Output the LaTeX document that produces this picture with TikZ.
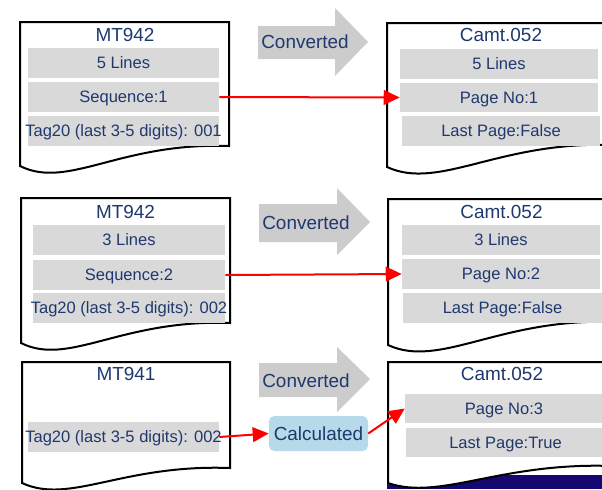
\documentclass[tikz,border=0pt]{standalone}
\usepackage{fontspec}
\setmainfont{Liberation Sans}
\usepackage{xcolor}
\usetikzlibrary{arrows.meta}

\definecolor{txtblue}{RGB}{31,56,110}
\definecolor{bargray}{RGB}{217,217,217}
\definecolor{convgray}{RGB}{204,204,204}
\definecolor{calcblue}{RGB}{182,218,234}
\definecolor{bandnavy}{RGB}{22,8,112}

\tikzset{
  docpage/.style={draw=black, line width=1.5pt, fill=white},
  bar/.style={fill=bargray, inner sep=0pt, minimum height=22.5pt, text=txtblue,
    font=\fontsize{12.4}{15}\selectfont, text height=8.9pt, text depth=0pt},
  doctitle/.style={inner sep=0pt, text=txtblue, font=\fontsize{14.2}{17}\selectfont,
    text height=10.2pt, text depth=0pt},
  convarrow/.style={fill=convgray},
  convtext/.style={inner sep=0pt, text=txtblue, font=\fontsize{14.2}{17}\selectfont,
    text height=10.2pt, text depth=0pt},
  redlink/.style={draw=red, line width=1.5pt, -{Triangle[length=12pt,width=11pt]}},
}

\begin{document}
\begin{tikzpicture}[x=0.75pt,y=0.75pt,yscale=-1,xscale=1]
\clip (0,0) rectangle (602,489);

%Shape: Band [bottom right]
\fill[bandnavy] (387,475) rectangle (602,489);

%Shape: Document [left 1]
\draw[docpage] (20,22) -- (229,22) -- (229,146) .. controls (120,142) and (68,190) .. (20,166) -- cycle;
%Shape: Document [right 1]
\draw[docpage] (387,23) -- (612,23) -- (612,145) .. controls (499,141) and (439,191) .. (387,167) -- cycle;
%Shape: Document [left 2]
\draw[docpage] (21,198) -- (230,198) -- (230,323) .. controls (121,319) and (69,367) .. (21,343) -- cycle;
%Shape: Document [right 2]
\draw[docpage] (388,199) -- (612,199) -- (612,322) .. controls (500,318) and (440,369) .. (388,345) -- cycle;
%Shape: Document [left 3]
\draw[docpage] (22,362) -- (230,362) -- (230,468) .. controls (122,464) and (70,505) .. (22,483) -- cycle;
%Shape: Document [right 3]
\draw[docpage] (388,362) -- (612,362) -- (612,466) .. controls (500,462) and (440,501) .. (388,483) -- cycle;

%Shape: Right Arrow [1]
\fill[convarrow] (258,26) -- (335,26) -- (335,8) -- (368,42) -- (335,76) -- (335,59) -- (258,59) -- cycle;
%Shape: Right Arrow [2]
\fill[convarrow] (259,204) -- (337,204) -- (337,188) -- (370,222) -- (337,255) -- (337,242) -- (259,242) -- cycle;
%Shape: Right Arrow [3]
\fill[convarrow] (259,363) -- (337,363) -- (337,347) -- (370,379) -- (337,412) -- (337,397) -- (259,397) -- cycle;

% Text Node
\node[doctitle] (lt1) at (125,35) {MT942};
\node[doctitle] (rt1) at (501,35) {Camt.052};
\node[doctitle] (lt2) at (125.5,212) {MT942};
\node[doctitle] (rt2) at (501.5,212) {Camt.052};
\node[doctitle] (lt3) at (126,374) {MT941};
\node[doctitle] (rt3) at (502,374) {Camt.052};

% Text Node
\node[convtext] (cv1) at (305,42) {Converted};
\node[convtext] (cv2) at (306,223) {Converted};
\node[convtext] (cv3) at (306,381) {Converted};

% Bars, top row
\node[bar, minimum width=143.25pt] (lb11) at (123.5,63) {5 Lines};
\node[bar, minimum width=143.25pt] (lb12) at (123.5,97) {Sequence:1};
\node[bar, minimum width=143.25pt] (lb13) at (123.5,131) {\makebox[0pt]{Tag20 (last 3-5 digits): 001}};
\node[bar, minimum width=148.5pt] (rb11) at (499,64) {5 Lines};
\node[bar, minimum width=148.5pt, minimum height=21.75pt] (rb12) at (499,97.5) {Page No:1};
\node[bar, minimum width=148.5pt] (rb13) at (501,131) {Last Page:False};

% Bars, middle row
\node[bar, minimum width=144pt] (lb21) at (129,240) {3 Lines};
\node[bar, minimum width=144pt] (lb22) at (129,275) {Sequence:2};
\node[bar, minimum width=144pt] (lb23) at (129,308) {\makebox[0pt]{Tag20 (last 3-5 digits): 002}};
\node[bar, minimum width=148.5pt] (rb21) at (501,240) {3 Lines};
\node[bar, minimum width=148.5pt] (rb22) at (501,274) {Page No:2};
\node[bar, minimum width=149.25pt] (rb23) at (502.5,308) {Last Page:False};

% Bars, bottom row
\node[bar, minimum width=143.25pt] (lb31) at (123.5,437) {\makebox[0pt]{Tag20 (last 3-5 digits): 002}};
\node[bar, minimum width=148.5pt, minimum height=21.75pt] (rb31) at (504,408.5) {Page No:3};
\node[bar, minimum width=149.25pt, minimum height=21.75pt] (rb32) at (505.5,442.5) {Last Page:True};

%Rounded Rect
\node[fill=calcblue, rounded corners=4pt, inner sep=0pt, minimum width=74.25pt, minimum height=26.25pt,
  text=txtblue, font=\fontsize{14.2}{17}\selectfont, text height=10.2pt, text depth=0pt] (calc) at (318.5,433.5) {Calculated};

%Straight Lines
\draw[redlink] (lb12.east) -- (rb12.west);
\draw[redlink] (lb22.east) -- (rb22.west);
\draw[redlink] (lb31.east) -- (calc.west);
\draw[redlink] (calc.east) -- (rb31.west);

\end{tikzpicture}
\end{document}
